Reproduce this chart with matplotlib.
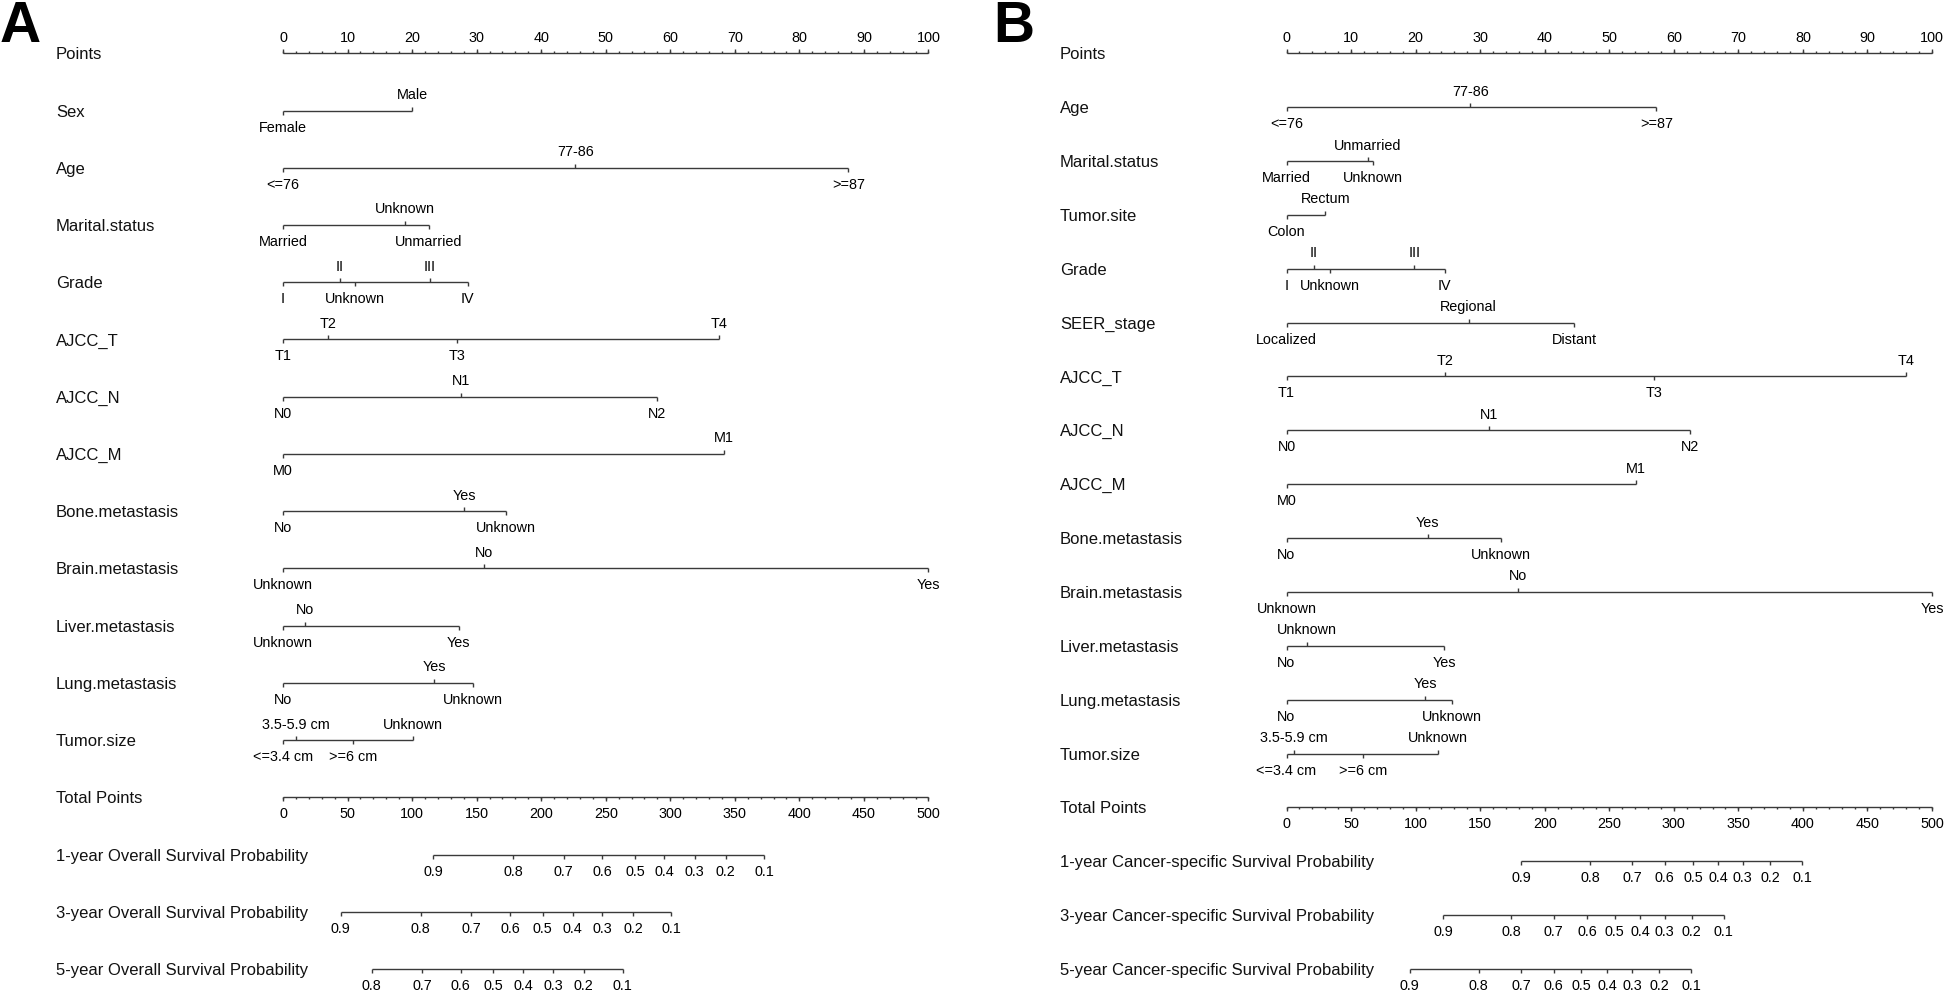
import numpy as np
import matplotlib
matplotlib.use("Agg")
import matplotlib.pyplot as plt
from matplotlib.transforms import offset_copy, blended_transform_factory
from matplotlib.lines import TICKUP, TICKDOWN

plt.rcParams["font.family"] = ["Liberation Sans", "DejaVu Sans"]

# ---------------- panel A: overall survival ----------------
a_vars = ["Sex", "Age", "Marital.status", "Grade", "AJCC_T", "AJCC_N", "AJCC_M",
          "Bone.metastasis", "Brain.metastasis", "Liver.metastasis",
          "Lung.metastasis", "Tumor.size"]
a_levels = [["Female", "Male"],
            ["<=76", "77-86", ">=87"],
            ["Married", "Unknown", "Unmarried"],
            ["I", "II", "Unknown", "III", "IV"],
            ["T1", "T2", "T3", "T4"],
            ["N0", "N1", "N2"],
            ["M0", "M1"],
            ["No", "Yes", "Unknown"],
            ["Unknown", "No", "Yes"],
            ["Unknown", "No", "Yes"],
            ["No", "Yes", "Unknown"],
            ["<=3.4 cm", "3.5-5.9 cm", ">=6 cm", "Unknown"]]
a_scores = [[0, 20.0],
            [0, 45.3, 87.6],
            [0, 18.9, 22.6],
            [0, 8.8, 11.1, 22.7, 28.6],
            [0, 7.0, 26.9, 67.5],
            [0, 27.6, 57.9],
            [0, 68.3],
            [0, 28.1, 34.5],
            [0, 31.1, 100.0],
            [0, 3.4, 27.2],
            [0, 23.4, 29.4],
            [0, 2.0, 10.8, 20.1]]
a_prob_titles = ["1-year Overall Survival Probability",
                 "3-year Overall Survival Probability",
                 "5-year Overall Survival Probability"]
a_prob_values = [[0.9, 0.8, 0.7, 0.6, 0.5, 0.4, 0.3, 0.2, 0.1],
                 [0.9, 0.8, 0.7, 0.6, 0.5, 0.4, 0.3, 0.2, 0.1],
                 [0.8, 0.7, 0.6, 0.5, 0.4, 0.3, 0.2, 0.1]]
a_prob_total = [[116.3, 178.3, 217.5, 247.1, 272.8, 295.5, 318.8, 343.0, 372.6],
                [44.6, 106.6, 145.8, 175.9, 201.1, 224.3, 247.1, 271.3, 300.9],
                [68.8, 107.6, 137.6, 162.8, 186.0, 209.3, 233.0, 263.1]]

# ---------------- panel B: cancer-specific survival ----------------
b_vars = ["Age", "Marital.status", "Tumor.site", "Grade", "SEER_stage", "AJCC_T",
          "AJCC_N", "AJCC_M", "Bone.metastasis", "Brain.metastasis",
          "Liver.metastasis", "Lung.metastasis", "Tumor.size"]
b_levels = [["<=76", "77-86", ">=87"],
            ["Married", "Unmarried", "Unknown"],
            ["Colon", "Rectum"],
            ["I", "II", "Unknown", "III", "IV"],
            ["Localized", "Regional", "Distant"],
            ["T1", "T2", "T3", "T4"],
            ["N0", "N1", "N2"],
            ["M0", "M1"],
            ["No", "Yes", "Unknown"],
            ["Unknown", "No", "Yes"],
            ["No", "Unknown", "Yes"],
            ["No", "Yes", "Unknown"],
            ["<=3.4 cm", "3.5-5.9 cm", ">=6 cm", "Unknown"]]
b_scores = [[0, 28.5, 57.3],
            [0, 12.6, 13.4],
            [0, 6.0],
            [0, 4.2, 6.7, 19.8, 24.5],
            [0, 28.2, 44.6],
            [0, 24.5, 57.0, 96.0],
            [0, 31.4, 62.5],
            [0, 54.2],
            [0, 21.9, 33.2],
            [0, 35.8, 100.0],
            [0, 3.1, 24.4],
            [0, 21.5, 25.6],
            [0, 1.1, 11.9, 23.4]]
b_prob_titles = ["1-year Cancer-specific Survival Probability",
                 "3-year Cancer-specific Survival Probability",
                 "5-year Cancer-specific Survival Probability"]
b_prob_values = [[0.9, 0.8, 0.7, 0.6, 0.5, 0.4, 0.3, 0.2, 0.1],
                 [0.9, 0.8, 0.7, 0.6, 0.5, 0.4, 0.3, 0.2, 0.1],
                 [0.9, 0.8, 0.7, 0.6, 0.5, 0.4, 0.3, 0.2, 0.1]]
b_prob_total = [[181.8, 235.2, 267.7, 292.9, 314.9, 334.4, 353.5, 374.5, 399.3],
                [121.2, 174.1, 207.1, 232.8, 254.3, 273.9, 292.9, 313.9, 338.7],
                [95.4, 148.9, 181.8, 207.1, 228.5, 248.6, 267.7, 288.6, 313.5]]

points_major = np.arange(0, 101, 10)
points_minor = np.arange(0, 101, 2)
total_major = np.arange(0, 501, 50)
total_minor = np.arange(0, 501, 10)
TOTAL_MAX = 500

W, H = 1946, 994
LINE = "#3a3a3a"
LW = 1.0
TICK_MAJOR = 3.0
TICK_MINOR = 1.7
FS_TICK = 10.4
FS_ROW = 12


def fmt_prob(v):
    return f"{v:.1f}"


def draw_panel(fig, letter, left_px, letter_px, label_px, variables, levels, scores,
               prob_titles, prob_values, prob_total):
    n_rows = len(variables) + len(prob_titles) + 2
    top, bottom, width = 53.3, 969.0, 645.5
    ax = fig.add_axes([left_px / W, 1 - bottom / H, width / W, (bottom - top) / H])
    ax.set_xlim(0, 100)
    ax.set_ylim(n_rows - 1, 0)
    ax.axis("off")

    above = offset_copy(ax.transData, fig=fig, y=15.5, units="dots")
    below = offset_copy(ax.transData, fig=fig, y=-17, units="dots")
    row_tr = blended_transform_factory(fig.transFigure, ax.transData)
    row_tr = offset_copy(row_tr, fig=fig, y=-1.5, units="dots")

    def row_label(y, s):
        ax.text(label_px / W, y, s, transform=row_tr, ha="left", va="center",
                fontsize=FS_ROW, color="#111111", clip_on=False)

    def hline(x0, x1, y):
        ax.plot([x0, x1], [y, y], color=LINE, lw=LW, solid_capstyle="butt", clip_on=False)

    def ticks(xs, y, up, size):
        ax.plot(xs, np.full(len(xs), y), ls="none", marker=TICKUP if up else TICKDOWN,
                ms=size, mew=LW, color=LINE, clip_on=False)

    # Points scale
    row_label(0, "Points")
    hline(0, 100, 0)
    ticks(points_minor, 0, True, TICK_MINOR)
    ticks(points_major, 0, True, TICK_MAJOR)
    for p in points_major:
        ax.text(p, 0, str(p), transform=above, ha="center", va="center",
                fontsize=FS_TICK, clip_on=False)

    # predictor rows
    for i, (name, labs, sc) in enumerate(zip(variables, levels, scores)):
        y = i + 1
        row_label(y, name)
        hline(min(sc), max(sc), y)
        for j, (lab, s) in enumerate(zip(labs, sc)):
            up = j % 2 == 1
            ticks([s], y, up, TICK_MAJOR)
            ax.text(s, y, lab, transform=above if up else below, ha="center",
                    va="center", fontsize=FS_TICK, clip_on=False)

    # Total points scale (0-500 mapped onto the 0-100 points axis)
    y = len(variables) + 1
    scale = 100 / TOTAL_MAX
    row_label(y, "Total Points")
    hline(0, 100, y)
    ticks(total_minor * scale, y, False, TICK_MINOR)
    ticks(total_major * scale, y, False, TICK_MAJOR)
    for t in total_major:
        ax.text(t * scale, y, str(t), transform=below, ha="center", va="center",
                fontsize=FS_TICK, clip_on=False)

    # survival probability scales
    for k, (title, vals, tot) in enumerate(zip(prob_titles, prob_values, prob_total)):
        y = len(variables) + 2 + k
        xs = np.array(tot) * scale
        row_label(y, title)
        hline(xs.min(), xs.max(), y)
        ticks(xs, y, False, TICK_MAJOR)
        for v, x in zip(vals, xs):
            ax.text(x, y, fmt_prob(v), transform=below, ha="center", va="center",
                    fontsize=FS_TICK, clip_on=False)

    fig.text(letter_px / W, 1 - 0.0 / H, letter, fontsize=41, fontweight="bold",
             ha="left", va="top", color="black")
    return ax


fig = plt.figure(figsize=(W / 100, H / 100), dpi=100)
draw_panel(fig, "A", 283, 0, 56, a_vars, a_levels, a_scores,
           a_prob_titles, a_prob_values, a_prob_total)
draw_panel(fig, "B", 1286.5, 993, 1060, b_vars, b_levels, b_scores,
           b_prob_titles, b_prob_values, b_prob_total)
fig.savefig("out.png", dpi=100, facecolor="white")
